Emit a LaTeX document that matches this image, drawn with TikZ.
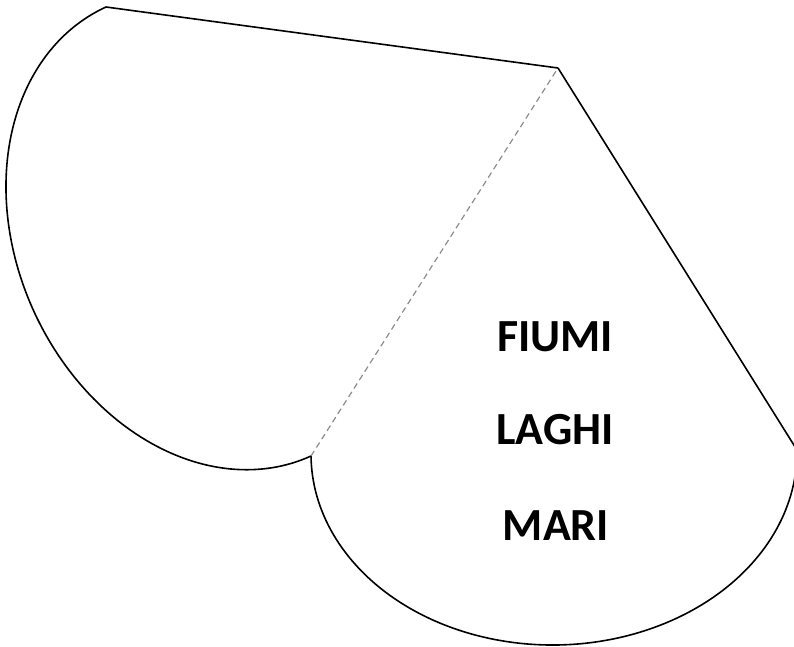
\documentclass[tikz,border=0pt]{standalone}
\usepackage{fontspec}
\usepackage{xcolor}
\usepackage{tikz}
\setmainfont{Carlito}
\definecolor{fnblack}{HTML}{000000}
\definecolor{fngray}{HTML}{8C8C8C}

\begin{document}
\begin{tikzpicture}[x=1pt, y=-1pt]
  \useasboundingbox (0,0) rectangle (794,646);
  \clip (0,0) rectangle (794,646);
  \coordinate (apex) at (558,68);
  \coordinate (topleft) at (106,7);
  \coordinate (cusp) at (311,456);
  \coordinate (corner) at (797,450);
  % left flap
  \draw[draw=fnblack, line width=1.6pt, line join=round] (apex) -- (topleft) -- plot[domain=180:0, samples=120, variable=\t] ({208.5+102.5*cos(\t)-174.7*sin(\t)}, {231.5+224.5*cos(\t)+79.7*sin(\t)});
  % right flap
  \draw[draw=fnblack, line width=1.6pt, line join=round] (apex) -- (corner) -- plot[domain=0:180, samples=120, variable=\t] ({554+243*cos(\t)+2.37*sin(\t)}, {453-3*cos(\t)+192*sin(\t)});
  % fold
  \draw[draw=fngray, line width=1.2pt, dash pattern=on 6pt off 4pt] (cusp) -- (apex);
  \node[text=fnblack, inner sep=0pt, font=\fontsize{46}{54}\selectfont\bfseries] (fiumi) at (555,337) {FIUMI};
  \node[text=fnblack, inner sep=0pt, font=\fontsize{46}{54}\selectfont\bfseries] (laghi) at (555,430) {LAGHI};
  \node[text=fnblack, inner sep=0pt, font=\fontsize{46}{54}\selectfont\bfseries] (mari) at (556,526) {MARI};
\end{tikzpicture}
\end{document}
